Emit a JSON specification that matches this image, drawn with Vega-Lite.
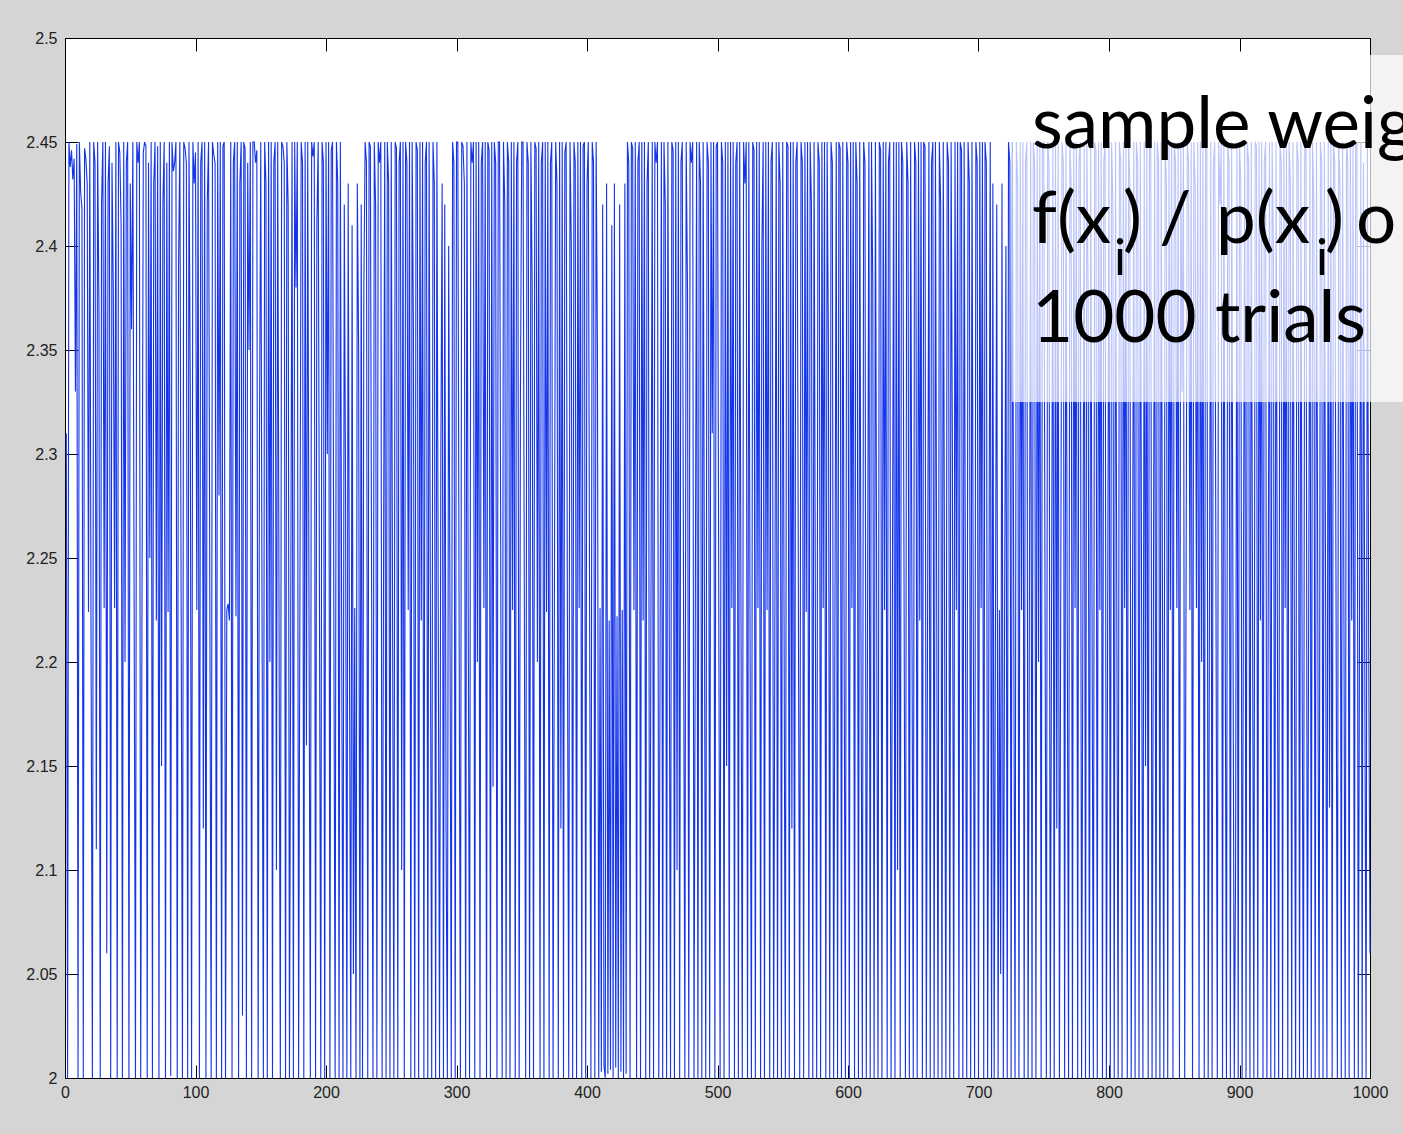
{
"$schema": "https://vega.github.io/schema/vega-lite/v6.json",
"width": 1305, "height": 1040,
"autosize": {"type": "none"},
"padding": {"left": 65, "top": 38, "right": 33, "bottom": 56},
"background": "#d5d5d5",
"config": {"view": {"fill": "#ffffff", "stroke": "#000000", "strokeWidth": 1}},
"datasets": {
"weights": [
{"i":1,"w":2.31},{"i":2,"w":2.0},{"i":3,"w":2.45},{"i":4,"w":2.438},{"i":5,"w":2.446},{"i":6,"w":2.432},{"i":7,"w":2.442},{"i":8,"w":2.33},{"i":9,"w":2.449},{"i":10,"w":2.0},
{"i":11,"w":2.45},{"i":12,"w":2.426},{"i":13,"w":2.418},{"i":14,"w":2.0},{"i":15,"w":2.447},{"i":16,"w":2.442},{"i":17,"w":2.43},{"i":18,"w":2.224},{"i":19,"w":2.45},{"i":20,"w":2.2},
{"i":21,"w":2.0},{"i":22,"w":2.45},{"i":23,"w":2.44},{"i":24,"w":2.11},{"i":25,"w":2.45},{"i":26,"w":2.37},{"i":27,"w":2.0},{"i":28,"w":2.42},{"i":29,"w":2.45},{"i":30,"w":2.226},
{"i":31,"w":2.45},{"i":32,"w":2.06},{"i":33,"w":2.43},{"i":34,"w":2.448},{"i":35,"w":2.0},{"i":36,"w":2.44},{"i":37,"w":2.38},{"i":38,"w":2.226},{"i":39,"w":2.45},{"i":40,"w":2.0},
{"i":41,"w":2.45},{"i":42,"w":2.445},{"i":43,"w":2.41},{"i":44,"w":2.0},{"i":45,"w":2.45},{"i":46,"w":2.2},{"i":47,"w":2.44},{"i":48,"w":2.45},{"i":49,"w":2.0},{"i":50,"w":2.43},
{"i":51,"w":2.36},{"i":52,"w":2.45},{"i":53,"w":2.221},{"i":54,"w":2.0},{"i":55,"w":2.45},{"i":56,"w":2.44},{"i":57,"w":2.45},{"i":58,"w":2.0},{"i":59,"w":2.226},{"i":60,"w":2.445},
{"i":61,"w":2.45},{"i":62,"w":2.448},{"i":63,"w":2.0},{"i":64,"w":2.44},{"i":65,"w":2.25},{"i":66,"w":2.45},{"i":67,"w":2.0},{"i":68,"w":2.43},{"i":69,"w":2.45},{"i":70,"w":2.22},
{"i":71,"w":2.448},{"i":72,"w":2.0},{"i":73,"w":2.45},{"i":74,"w":2.15},{"i":75,"w":2.42},{"i":76,"w":2.45},{"i":77,"w":2.0},{"i":78,"w":2.44},{"i":79,"w":2.224},{"i":80,"w":2.45},
{"i":81,"w":2.001},{"i":82,"w":2.45},{"i":83,"w":2.436},{"i":84,"w":2.44},{"i":85,"w":2.45},{"i":86,"w":2.0},{"i":87,"w":2.39},{"i":88,"w":2.45},{"i":89,"w":2.226},{"i":90,"w":2.0},
{"i":91,"w":2.45},{"i":92,"w":2.447},{"i":93,"w":2.44},{"i":94,"w":2.0},{"i":95,"w":2.45},{"i":96,"w":2.33},{"i":97,"w":2.0},{"i":98,"w":2.45},{"i":99,"w":2.43},{"i":100,"w":2.445},
{"i":101,"w":2.225},{"i":102,"w":2.45},{"i":103,"w":2.0},{"i":104,"w":2.44},{"i":105,"w":2.45},{"i":106,"w":2.12},{"i":107,"w":2.45},{"i":108,"w":2.0},{"i":109,"w":2.42},{"i":110,"w":2.45},
{"i":111,"w":2.226},{"i":112,"w":2.0},{"i":113,"w":2.45},{"i":114,"w":2.444},{"i":115,"w":2.44},{"i":116,"w":2.0},{"i":117,"w":2.45},{"i":118,"w":2.28},{"i":119,"w":2.45},{"i":120,"w":2.0},
{"i":121,"w":2.448},{"i":122,"w":2.45},{"i":123,"w":2.0},{"i":124,"w":2.225},{"i":125,"w":2.228},{"i":126,"w":2.22},{"i":127,"w":2.45},{"i":128,"w":2.0},{"i":129,"w":2.44},{"i":130,"w":2.45},
{"i":131,"w":2.222},{"i":132,"w":2.45},{"i":133,"w":2.0},{"i":134,"w":2.43},{"i":135,"w":2.45},{"i":136,"w":2.03},{"i":137,"w":2.45},{"i":138,"w":2.447},{"i":139,"w":2.0},{"i":140,"w":2.44},
{"i":141,"w":2.35},{"i":142,"w":2.45},{"i":143,"w":2.0},{"i":144,"w":2.45},{"i":145,"w":2.45},{"i":146,"w":2.44},{"i":147,"w":2.446},{"i":148,"w":2.0},{"i":149,"w":2.3},{"i":150,"w":2.45},
{"i":151,"w":2.224},{"i":152,"w":2.0},{"i":153,"w":2.45},{"i":154,"w":2.43},{"i":155,"w":2.0},{"i":156,"w":2.45},{"i":157,"w":2.2},{"i":158,"w":2.45},{"i":159,"w":2.0},{"i":160,"w":2.44},
{"i":161,"w":2.45},{"i":162,"w":2.1},{"i":163,"w":2.45},{"i":164,"w":2.226},{"i":165,"w":2.0},{"i":166,"w":2.45},{"i":167,"w":2.448},{"i":168,"w":2.44},{"i":169,"w":2.0},{"i":170,"w":2.45},
{"i":171,"w":2.42},{"i":172,"w":2.0},{"i":173,"w":2.224},{"i":174,"w":2.45},{"i":175,"w":2.0},{"i":176,"w":2.45},{"i":177,"w":2.38},{"i":178,"w":2.45},{"i":179,"w":2.0},{"i":180,"w":2.228},
{"i":181,"w":2.45},{"i":182,"w":2.44},{"i":183,"w":2.0},{"i":184,"w":2.45},{"i":185,"w":2.16},{"i":186,"w":2.45},{"i":187,"w":2.22},{"i":188,"w":2.0},{"i":189,"w":2.45},{"i":190,"w":2.443},
{"i":191,"w":2.45},{"i":192,"w":2.0},{"i":193,"w":2.41},{"i":194,"w":2.45},{"i":195,"w":2.226},{"i":196,"w":2.0},{"i":197,"w":2.45},{"i":198,"w":2.44},{"i":199,"w":2.0},{"i":200,"w":2.45},
{"i":201,"w":2.3},{"i":202,"w":2.45},{"i":203,"w":2.0},{"i":204,"w":2.446},{"i":205,"w":2.45},{"i":206,"w":2.225},{"i":207,"w":2.0},{"i":208,"w":2.45},{"i":209,"w":2.43},{"i":210,"w":2.0},
{"i":211,"w":2.45},{"i":212,"w":2.22},{"i":213,"w":2.0},{"i":214,"w":2.42},{"i":215,"w":2.28},{"i":216,"w":2.0},{"i":217,"w":2.43},{"i":218,"w":2.2},{"i":219,"w":2.0},{"i":220,"w":2.41},
{"i":221,"w":2.05},{"i":222,"w":2.226},{"i":223,"w":2.0},{"i":224,"w":2.43},{"i":225,"w":2.35},{"i":226,"w":2.0},{"i":227,"w":2.42},{"i":228,"w":2.0},{"i":229,"w":2.38},{"i":230,"w":2.45},
{"i":231,"w":2.44},{"i":232,"w":2.0},{"i":233,"w":2.45},{"i":234,"w":2.448},{"i":235,"w":2.226},{"i":236,"w":2.0},{"i":237,"w":2.45},{"i":238,"w":2.42},{"i":239,"w":2.0},{"i":240,"w":2.45},
{"i":241,"w":2.44},{"i":242,"w":2.45},{"i":243,"w":2.0},{"i":244,"w":2.22},{"i":245,"w":2.45},{"i":246,"w":2.0},{"i":247,"w":2.45},{"i":248,"w":2.43},{"i":249,"w":2.0},{"i":250,"w":2.45},
{"i":251,"w":2.226},{"i":252,"w":2.0},{"i":253,"w":2.45},{"i":254,"w":2.447},{"i":255,"w":2.0},{"i":256,"w":2.44},{"i":257,"w":2.45},{"i":258,"w":2.1},{"i":259,"w":2.45},{"i":260,"w":2.0},
{"i":261,"w":2.45},{"i":262,"w":2.44},{"i":263,"w":2.225},{"i":264,"w":2.45},{"i":265,"w":2.0},{"i":266,"w":2.45},{"i":267,"w":2.36},{"i":268,"w":2.0},{"i":269,"w":2.45},{"i":270,"w":2.446},
{"i":271,"w":2.0},{"i":272,"w":2.45},{"i":273,"w":2.22},{"i":274,"w":2.45},{"i":275,"w":2.0},{"i":276,"w":2.44},{"i":277,"w":2.45},{"i":278,"w":2.0},{"i":279,"w":2.45},{"i":280,"w":2.224},
{"i":281,"w":2.0},{"i":282,"w":2.45},{"i":283,"w":2.43},{"i":284,"w":2.0},{"i":285,"w":2.45},{"i":286,"w":2.226},{"i":287,"w":2.0},{"i":288,"w":2.3},{"i":289,"w":2.43},{"i":290,"w":2.0},
{"i":291,"w":2.42},{"i":292,"w":2.12},{"i":293,"w":2.0},{"i":294,"w":2.4},{"i":295,"w":2.224},{"i":296,"w":2.0},{"i":297,"w":2.45},{"i":298,"w":2.44},{"i":299,"w":2.0},{"i":300,"w":2.45},
{"i":301,"w":2.45},{"i":302,"w":2.22},{"i":303,"w":2.0},{"i":304,"w":2.45},{"i":305,"w":2.448},{"i":306,"w":2.43},{"i":307,"w":2.0},{"i":308,"w":2.45},{"i":309,"w":2.225},{"i":310,"w":2.0},
{"i":311,"w":2.45},{"i":312,"w":2.44},{"i":313,"w":2.45},{"i":314,"w":2.0},{"i":315,"w":2.45},{"i":316,"w":2.2},{"i":317,"w":2.45},{"i":318,"w":2.0},{"i":319,"w":2.44},{"i":320,"w":2.45},
{"i":321,"w":2.226},{"i":322,"w":2.45},{"i":323,"w":2.0},{"i":324,"w":2.45},{"i":325,"w":2.446},{"i":326,"w":2.0},{"i":327,"w":2.45},{"i":328,"w":2.14},{"i":329,"w":2.45},{"i":330,"w":2.44},
{"i":331,"w":2.0},{"i":332,"w":2.45},{"i":333,"w":2.45},{"i":334,"w":2.225},{"i":335,"w":2.0},{"i":336,"w":2.45},{"i":337,"w":2.42},{"i":338,"w":2.0},{"i":339,"w":2.45},{"i":340,"w":2.44},
{"i":341,"w":2.0},{"i":342,"w":2.45},{"i":343,"w":2.225},{"i":344,"w":2.45},{"i":345,"w":2.0},{"i":346,"w":2.44},{"i":347,"w":2.45},{"i":348,"w":2.0},{"i":349,"w":2.33},{"i":350,"w":2.45},
{"i":351,"w":2.45},{"i":352,"w":2.226},{"i":353,"w":2.0},{"i":354,"w":2.45},{"i":355,"w":2.44},{"i":356,"w":2.0},{"i":357,"w":2.45},{"i":358,"w":2.38},{"i":359,"w":2.0},{"i":360,"w":2.45},
{"i":361,"w":2.447},{"i":362,"w":2.2},{"i":363,"w":2.45},{"i":364,"w":2.0},{"i":365,"w":2.44},{"i":366,"w":2.45},{"i":367,"w":2.0},{"i":368,"w":2.45},{"i":369,"w":2.224},{"i":370,"w":2.45},
{"i":371,"w":2.0},{"i":372,"w":2.44},{"i":373,"w":2.45},{"i":374,"w":2.0},{"i":375,"w":2.226},{"i":376,"w":2.45},{"i":377,"w":2.43},{"i":378,"w":2.0},{"i":379,"w":2.45},{"i":380,"w":2.12},
{"i":381,"w":2.45},{"i":382,"w":2.0},{"i":383,"w":2.445},{"i":384,"w":2.45},{"i":385,"w":2.22},{"i":386,"w":2.0},{"i":387,"w":2.45},{"i":388,"w":2.4},{"i":389,"w":2.0},{"i":390,"w":2.45},
{"i":391,"w":2.44},{"i":392,"w":2.0},{"i":393,"w":2.45},{"i":394,"w":2.226},{"i":395,"w":2.45},{"i":396,"w":2.0},{"i":397,"w":2.448},{"i":398,"w":2.45},{"i":399,"w":2.0},{"i":400,"w":2.43},
{"i":401,"w":2.45},{"i":402,"w":2.225},{"i":403,"w":2.0},{"i":404,"w":2.45},{"i":405,"w":2.44},{"i":406,"w":2.0},{"i":407,"w":2.45},{"i":408,"w":2.35},{"i":409,"w":2.0},{"i":410,"w":2.226},
{"i":411,"w":2.003},{"i":412,"w":2.42},{"i":413,"w":2.006},{"i":414,"w":2.0},{"i":415,"w":2.43},{"i":416,"w":2.002},{"i":417,"w":2.22},{"i":418,"w":2.004},{"i":419,"w":2.41},{"i":420,"w":2.0},
{"i":421,"w":2.43},{"i":422,"w":2.005},{"i":423,"w":2.222},{"i":424,"w":2.0},{"i":425,"w":2.42},{"i":426,"w":2.003},{"i":427,"w":2.225},{"i":428,"w":2.0},{"i":429,"w":2.43},{"i":430,"w":2.002},
{"i":431,"w":2.45},{"i":432,"w":2.44},{"i":433,"w":2.0},{"i":434,"w":2.45},{"i":435,"w":2.447},{"i":436,"w":2.225},{"i":437,"w":2.45},{"i":438,"w":2.0},{"i":439,"w":2.44},{"i":440,"w":2.45},
{"i":441,"w":2.0},{"i":442,"w":2.45},{"i":443,"w":2.22},{"i":444,"w":2.45},{"i":445,"w":2.0},{"i":446,"w":2.43},{"i":447,"w":2.45},{"i":448,"w":2.0},{"i":449,"w":2.226},{"i":450,"w":2.45},
{"i":451,"w":2.0},{"i":452,"w":2.45},{"i":453,"w":2.44},{"i":454,"w":2.45},{"i":455,"w":2.0},{"i":456,"w":2.2},{"i":457,"w":2.45},{"i":458,"w":2.0},{"i":459,"w":2.45},{"i":460,"w":2.42},
{"i":461,"w":2.0},{"i":462,"w":2.45},{"i":463,"w":2.226},{"i":464,"w":2.0},{"i":465,"w":2.45},{"i":466,"w":2.446},{"i":467,"w":2.0},{"i":468,"w":2.45},{"i":469,"w":2.1},{"i":470,"w":2.45},
{"i":471,"w":2.0},{"i":472,"w":2.44},{"i":473,"w":2.45},{"i":474,"w":2.224},{"i":475,"w":2.0},{"i":476,"w":2.45},{"i":477,"w":2.38},{"i":478,"w":2.0},{"i":479,"w":2.45},{"i":480,"w":2.44},
{"i":481,"w":2.45},{"i":482,"w":2.0},{"i":483,"w":2.225},{"i":484,"w":2.45},{"i":485,"w":2.0},{"i":486,"w":2.45},{"i":487,"w":2.43},{"i":488,"w":2.0},{"i":489,"w":2.45},{"i":490,"w":2.226},
{"i":491,"w":2.0},{"i":492,"w":2.45},{"i":493,"w":2.44},{"i":494,"w":2.0},{"i":495,"w":2.45},{"i":496,"w":2.31},{"i":497,"w":2.45},{"i":498,"w":2.0},{"i":499,"w":2.448},{"i":500,"w":2.45},
{"i":501,"w":2.222},{"i":502,"w":2.0},{"i":503,"w":2.45},{"i":504,"w":2.44},{"i":505,"w":2.0},{"i":506,"w":2.45},{"i":507,"w":2.15},{"i":508,"w":2.45},{"i":509,"w":2.0},{"i":510,"w":2.45},
{"i":511,"w":2.226},{"i":512,"w":2.45},{"i":513,"w":2.0},{"i":514,"w":2.44},{"i":515,"w":2.45},{"i":516,"w":2.0},{"i":517,"w":2.45},{"i":518,"w":2.224},{"i":519,"w":2.0},{"i":520,"w":2.45},
{"i":521,"w":2.43},{"i":522,"w":2.45},{"i":523,"w":2.0},{"i":524,"w":2.45},{"i":525,"w":2.2},{"i":526,"w":2.0},{"i":527,"w":2.45},{"i":528,"w":2.446},{"i":529,"w":2.0},{"i":530,"w":2.45},
{"i":531,"w":2.226},{"i":532,"w":2.45},{"i":533,"w":2.0},{"i":534,"w":2.4},{"i":535,"w":2.45},{"i":536,"w":2.0},{"i":537,"w":2.45},{"i":538,"w":2.225},{"i":539,"w":2.45},{"i":540,"w":2.0},
{"i":541,"w":2.44},{"i":542,"w":2.45},{"i":543,"w":2.0},{"i":544,"w":2.226},{"i":545,"w":2.45},{"i":546,"w":2.0},{"i":547,"w":2.45},{"i":548,"w":2.43},{"i":549,"w":2.0},{"i":550,"w":2.45},
{"i":551,"w":2.22},{"i":552,"w":2.0},{"i":553,"w":2.45},{"i":554,"w":2.448},{"i":555,"w":2.0},{"i":556,"w":2.45},{"i":557,"w":2.12},{"i":558,"w":2.45},{"i":559,"w":2.0},{"i":560,"w":2.44},
{"i":561,"w":2.45},{"i":562,"w":2.226},{"i":563,"w":2.0},{"i":564,"w":2.45},{"i":565,"w":2.44},{"i":566,"w":2.0},{"i":567,"w":2.45},{"i":568,"w":2.224},{"i":569,"w":2.45},{"i":570,"w":2.0},
{"i":571,"w":2.45},{"i":572,"w":2.42},{"i":573,"w":2.0},{"i":574,"w":2.45},{"i":575,"w":2.225},{"i":576,"w":2.0},{"i":577,"w":2.45},{"i":578,"w":2.44},{"i":579,"w":2.0},{"i":580,"w":2.45},
{"i":581,"w":2.226},{"i":582,"w":2.45},{"i":583,"w":2.0},{"i":584,"w":2.45},{"i":585,"w":2.35},{"i":586,"w":2.0},{"i":587,"w":2.45},{"i":588,"w":2.44},{"i":589,"w":2.0},{"i":590,"w":2.225},
{"i":591,"w":2.45},{"i":592,"w":2.0},{"i":593,"w":2.45},{"i":594,"w":2.447},{"i":595,"w":2.0},{"i":596,"w":2.45},{"i":597,"w":2.22},{"i":598,"w":2.0},{"i":599,"w":2.45},{"i":600,"w":2.44},
{"i":601,"w":2.0},{"i":602,"w":2.45},{"i":603,"w":2.226},{"i":604,"w":2.45},{"i":605,"w":2.0},{"i":606,"w":2.45},{"i":607,"w":2.43},{"i":608,"w":2.0},{"i":609,"w":2.45},{"i":610,"w":2.2},
{"i":611,"w":2.0},{"i":612,"w":2.45},{"i":613,"w":2.44},{"i":614,"w":2.0},{"i":615,"w":2.226},{"i":616,"w":2.45},{"i":617,"w":2.0},{"i":618,"w":2.45},{"i":619,"w":2.38},{"i":620,"w":2.0},
{"i":621,"w":2.45},{"i":622,"w":2.224},{"i":623,"w":2.0},{"i":624,"w":2.45},{"i":625,"w":2.446},{"i":626,"w":2.0},{"i":627,"w":2.45},{"i":628,"w":2.225},{"i":629,"w":2.45},{"i":630,"w":2.0},
{"i":631,"w":2.44},{"i":632,"w":2.45},{"i":633,"w":2.0},{"i":634,"w":2.226},{"i":635,"w":2.45},{"i":636,"w":2.0},{"i":637,"w":2.45},{"i":638,"w":2.1},{"i":639,"w":2.45},{"i":640,"w":2.0},
{"i":641,"w":2.45},{"i":642,"w":2.44},{"i":643,"w":2.225},{"i":644,"w":2.0},{"i":645,"w":2.45},{"i":646,"w":2.43},{"i":647,"w":2.0},{"i":648,"w":2.45},{"i":649,"w":2.226},{"i":650,"w":2.0},
{"i":651,"w":2.45},{"i":652,"w":2.44},{"i":653,"w":2.0},{"i":654,"w":2.45},{"i":655,"w":2.22},{"i":656,"w":2.45},{"i":657,"w":2.0},{"i":658,"w":2.45},{"i":659,"w":2.448},{"i":660,"w":2.0},
{"i":661,"w":2.226},{"i":662,"w":2.45},{"i":663,"w":2.0},{"i":664,"w":2.44},{"i":665,"w":2.45},{"i":666,"w":2.0},{"i":667,"w":2.45},{"i":668,"w":2.224},{"i":669,"w":2.0},{"i":670,"w":2.45},
{"i":671,"w":2.42},{"i":672,"w":2.0},{"i":673,"w":2.45},{"i":674,"w":2.226},{"i":675,"w":2.0},{"i":676,"w":2.45},{"i":677,"w":2.44},{"i":678,"w":2.0},{"i":679,"w":2.45},{"i":680,"w":2.3},
{"i":681,"w":2.0},{"i":682,"w":2.45},{"i":683,"w":2.225},{"i":684,"w":2.45},{"i":685,"w":2.0},{"i":686,"w":2.45},{"i":687,"w":2.446},{"i":688,"w":2.0},{"i":689,"w":2.45},{"i":690,"w":2.226},
{"i":691,"w":2.0},{"i":692,"w":2.45},{"i":693,"w":2.43},{"i":694,"w":2.0},{"i":695,"w":2.45},{"i":696,"w":2.22},{"i":697,"w":2.0},{"i":698,"w":2.45},{"i":699,"w":2.44},{"i":700,"w":2.0},
{"i":701,"w":2.45},{"i":702,"w":2.226},{"i":703,"w":2.45},{"i":704,"w":2.0},{"i":705,"w":2.45},{"i":706,"w":2.44},{"i":707,"w":2.0},{"i":708,"w":2.224},{"i":709,"w":2.45},{"i":710,"w":2.0},
{"i":711,"w":2.43},{"i":712,"w":2.0},{"i":713,"w":2.22},{"i":714,"w":2.42},{"i":715,"w":2.0},{"i":716,"w":2.225},{"i":717,"w":2.05},{"i":718,"w":2.43},{"i":719,"w":2.0},{"i":720,"w":2.224},
{"i":721,"w":2.4},{"i":722,"w":2.0},{"i":723,"w":2.45},{"i":724,"w":2.44},{"i":725,"w":2.0},{"i":726,"w":2.45},{"i":727,"w":2.226},{"i":728,"w":2.0},{"i":729,"w":2.45},{"i":730,"w":2.43},
{"i":731,"w":2.0},{"i":732,"w":2.45},{"i":733,"w":2.225},{"i":734,"w":2.45},{"i":735,"w":2.0},{"i":736,"w":2.44},{"i":737,"w":2.45},{"i":738,"w":2.0},{"i":739,"w":2.226},{"i":740,"w":2.45},
{"i":741,"w":2.0},{"i":742,"w":2.45},{"i":743,"w":2.44},{"i":744,"w":2.0},{"i":745,"w":2.45},{"i":746,"w":2.2},{"i":747,"w":2.45},{"i":748,"w":2.0},{"i":749,"w":2.448},{"i":750,"w":2.45},
{"i":751,"w":2.226},{"i":752,"w":2.0},{"i":753,"w":2.45},{"i":754,"w":2.44},{"i":755,"w":2.0},{"i":756,"w":2.225},{"i":757,"w":2.45},{"i":758,"w":2.0},{"i":759,"w":2.45},{"i":760,"w":2.12},
{"i":761,"w":2.45},{"i":762,"w":2.0},{"i":763,"w":2.226},{"i":764,"w":2.45},{"i":765,"w":2.44},{"i":766,"w":2.0},{"i":767,"w":2.45},{"i":768,"w":2.222},{"i":769,"w":2.0},{"i":770,"w":2.45},
{"i":771,"w":2.43},{"i":772,"w":2.0},{"i":773,"w":2.45},{"i":774,"w":2.226},{"i":775,"w":2.45},{"i":776,"w":2.0},{"i":777,"w":2.44},{"i":778,"w":2.45},{"i":779,"w":2.0},{"i":780,"w":2.224},
{"i":781,"w":2.45},{"i":782,"w":2.0},{"i":783,"w":2.45},{"i":784,"w":2.38},{"i":785,"w":2.0},{"i":786,"w":2.45},{"i":787,"w":2.226},{"i":788,"w":2.0},{"i":789,"w":2.45},{"i":790,"w":2.446},
{"i":791,"w":2.0},{"i":792,"w":2.45},{"i":793,"w":2.225},{"i":794,"w":2.45},{"i":795,"w":2.0},{"i":796,"w":2.44},{"i":797,"w":2.45},{"i":798,"w":2.0},{"i":799,"w":2.226},{"i":800,"w":2.45},
{"i":801,"w":2.0},{"i":802,"w":2.45},{"i":803,"w":2.42},{"i":804,"w":2.0},{"i":805,"w":2.45},{"i":806,"w":2.22},{"i":807,"w":2.0},{"i":808,"w":2.45},{"i":809,"w":2.44},{"i":810,"w":2.0},
{"i":811,"w":2.45},{"i":812,"w":2.226},{"i":813,"w":2.45},{"i":814,"w":2.0},{"i":815,"w":2.45},{"i":816,"w":2.43},{"i":817,"w":2.0},{"i":818,"w":2.225},{"i":819,"w":2.45},{"i":820,"w":2.0},
{"i":821,"w":2.45},{"i":822,"w":2.44},{"i":823,"w":2.0},{"i":824,"w":2.45},{"i":825,"w":2.226},{"i":826,"w":2.0},{"i":827,"w":2.45},{"i":828,"w":2.15},{"i":829,"w":2.45},{"i":830,"w":2.0},
{"i":831,"w":2.448},{"i":832,"w":2.45},{"i":833,"w":2.0},{"i":834,"w":2.224},{"i":835,"w":2.45},{"i":836,"w":2.0},{"i":837,"w":2.45},{"i":838,"w":2.44},{"i":839,"w":2.0},{"i":840,"w":2.45},
{"i":841,"w":2.226},{"i":842,"w":2.0},{"i":843,"w":2.45},{"i":844,"w":2.43},{"i":845,"w":2.0},{"i":846,"w":2.45},{"i":847,"w":2.225},{"i":848,"w":2.45},{"i":849,"w":2.0},{"i":850,"w":2.45},
{"i":851,"w":2.44},{"i":852,"w":2.226},{"i":853,"w":2.45},{"i":854,"w":2.0},{"i":855,"w":2.45},{"i":856,"w":2.33},{"i":857,"w":2.45},{"i":858,"w":2.0},{"i":859,"w":2.226},{"i":860,"w":2.45},
{"i":861,"w":2.44},{"i":862,"w":2.225},{"i":863,"w":2.45},{"i":864,"w":2.0},{"i":865,"w":2.45},{"i":866,"w":2.43},{"i":867,"w":2.226},{"i":868,"w":2.45},{"i":869,"w":2.0},{"i":870,"w":2.45},
{"i":871,"w":2.2},{"i":872,"w":2.45},{"i":873,"w":2.0},{"i":874,"w":2.45},{"i":875,"w":2.446},{"i":876,"w":2.0},{"i":877,"w":2.226},{"i":878,"w":2.45},{"i":879,"w":2.0},{"i":880,"w":2.44},
{"i":881,"w":2.45},{"i":882,"w":2.225},{"i":883,"w":2.0},{"i":884,"w":2.45},{"i":885,"w":2.42},{"i":886,"w":2.45},{"i":887,"w":2.0},{"i":888,"w":2.45},{"i":889,"w":2.226},{"i":890,"w":2.0},
{"i":891,"w":2.45},{"i":892,"w":2.44},{"i":893,"w":2.0},{"i":894,"w":2.45},{"i":895,"w":2.224},{"i":896,"w":2.0},{"i":897,"w":2.1},{"i":898,"w":2.45},{"i":899,"w":2.0},{"i":900,"w":2.45},
{"i":901,"w":2.43},{"i":902,"w":2.0},{"i":903,"w":2.226},{"i":904,"w":2.45},{"i":905,"w":2.0},{"i":906,"w":2.45},{"i":907,"w":2.44},{"i":908,"w":2.0},{"i":909,"w":2.45},{"i":910,"w":2.225},
{"i":911,"w":2.0},{"i":912,"w":2.45},{"i":913,"w":2.448},{"i":914,"w":2.0},{"i":915,"w":2.45},{"i":916,"w":2.22},{"i":917,"w":2.45},{"i":918,"w":2.0},{"i":919,"w":2.44},{"i":920,"w":2.45},
{"i":921,"w":2.0},{"i":922,"w":2.226},{"i":923,"w":2.45},{"i":924,"w":2.0},{"i":925,"w":2.45},{"i":926,"w":2.4},{"i":927,"w":2.0},{"i":928,"w":2.45},{"i":929,"w":2.225},{"i":930,"w":2.0},
{"i":931,"w":2.45},{"i":932,"w":2.44},{"i":933,"w":2.0},{"i":934,"w":2.45},{"i":935,"w":2.226},{"i":936,"w":2.45},{"i":937,"w":2.0},{"i":938,"w":2.45},{"i":939,"w":2.43},{"i":940,"w":2.0},
{"i":941,"w":2.45},{"i":942,"w":2.224},{"i":943,"w":2.0},{"i":944,"w":2.45},{"i":945,"w":2.44},{"i":946,"w":2.0},{"i":947,"w":2.45},{"i":948,"w":2.2},{"i":949,"w":2.0},{"i":950,"w":2.45},
{"i":951,"w":2.446},{"i":952,"w":2.0},{"i":953,"w":2.226},{"i":954,"w":2.45},{"i":955,"w":2.0},{"i":956,"w":2.45},{"i":957,"w":2.42},{"i":958,"w":2.0},{"i":959,"w":2.45},{"i":960,"w":2.225},
{"i":961,"w":2.0},{"i":962,"w":2.45},{"i":963,"w":2.44},{"i":964,"w":2.0},{"i":965,"w":2.45},{"i":966,"w":2.226},{"i":967,"w":2.0},{"i":968,"w":2.45},{"i":969,"w":2.13},{"i":970,"w":2.45},
{"i":971,"w":2.0},{"i":972,"w":2.45},{"i":973,"w":2.44},{"i":974,"w":2.225},{"i":975,"w":2.0},{"i":976,"w":2.45},{"i":977,"w":2.43},{"i":978,"w":2.0},{"i":979,"w":2.45},{"i":980,"w":2.226},
{"i":981,"w":2.0},{"i":982,"w":2.45},{"i":983,"w":2.44},{"i":984,"w":2.0},{"i":985,"w":2.45},{"i":986,"w":2.22},{"i":987,"w":2.45},{"i":988,"w":2.0},{"i":989,"w":2.448},{"i":990,"w":2.45},
{"i":991,"w":2.0},{"i":992,"w":2.226},{"i":993,"w":2.45},{"i":994,"w":2.0},{"i":995,"w":2.44},{"i":996,"w":2.2},{"i":997,"w":2.0},{"i":998,"w":2.45},{"i":999,"w":2.21},{"i":1000,"w":2.06}
],
"box": [{"i": 725.7, "i2": 1040, "w": 2.4918, "w2": 2.325}],
"note": [
{"i": 741.0, "w": 2.4471, "label": "sample weig"},
{"i": 741.0, "w": 2.4014, "label": "f(x"},
{"i": 810.7, "w": 2.4014, "label": ")"},
{"i": 838.5, "w": 2.4014, "label": "/"},
{"i": 882.0, "w": 2.4014, "label": "p(x"},
{"i": 965.5, "w": 2.4014, "label": ")"},
{"i": 989.3, "w": 2.4014, "label": "o"},
{"i": 741.0, "w": 2.3538, "label": "1000 trials"}
],
"subs": [
{"i": 803.8, "w": 2.3861, "label": "i"},
{"i": 958.6, "w": 2.3861, "label": "i"}
]
},
"layer": [
{
"data": {"name": "weights"},
"mark": {"type": "line", "color": "#1434ea", "strokeWidth": 1.1},
"encoding": {
"x": {"field": "i", "type": "quantitative", "scale": {"domain": [0, 1000], "nice": false, "zero": false},
"axis": {"orient": "bottom", "values": [0,100,200,300,400,500,600,700,800,900,1000], "format": "d", "tickSize": -13, "tickColor": "#000000", "domain": false, "grid": false, "labelFont": "Liberation Sans", "labelFontSize": 16, "labelColor": "#222222", "labelPadding": 19, "labelFlush": false, "title": null}},
"y": {"field": "w", "type": "quantitative", "scale": {"domain": [2, 2.5], "nice": false, "zero": false},
"axis": {"orient": "left", "values": [2,2.05,2.1,2.15,2.2,2.25,2.3,2.35,2.4,2.45,2.5], "format": "~g", "tickSize": -13, "tickColor": "#000000", "domain": false, "grid": false, "labelFont": "Liberation Sans", "labelFontSize": 16, "labelColor": "#222222", "labelPadding": 21, "labelFlush": false, "title": null}}
}
},
{
"data": {"name": "box"},
"mark": {"type": "rect", "fill": "#ffffff", "fillOpacity": 0.7},
"encoding": {
"x": {"field": "i", "type": "quantitative", "scale": {"domain": [0, 1000], "nice": false, "zero": false},
"axis": {"orient": "top", "values": [0,100,200,300,400,500,600,700,800,900,1000], "labels": false, "tickSize": -13, "tickColor": "#000000", "domain": false, "grid": false, "title": null}},
"x2": {"field": "i2"},
"y": {"field": "w", "type": "quantitative", "scale": {"domain": [2, 2.5], "nice": false, "zero": false},
"axis": {"orient": "right", "values": [2,2.05,2.1,2.15,2.2,2.25,2.3,2.35,2.4,2.45,2.5], "labels": false, "tickSize": -13, "tickColor": "#000000", "domain": false, "grid": false, "title": null}},
"y2": {"field": "w2"}
}
},
{
"data": {"name": "note"},
"mark": {"type": "text", "align": "left", "baseline": "alphabetic", "font": "Lato", "fontSize": 71, "color": "#000000"},
"encoding": {
"x": {"field": "i", "type": "quantitative", "scale": {"domain": [0, 1000], "nice": false, "zero": false}, "axis": null},
"y": {"field": "w", "type": "quantitative", "scale": {"domain": [2, 2.5], "nice": false, "zero": false}, "axis": null},
"text": {"field": "label"}
}
},
{
"data": {"name": "subs"},
"mark": {"type": "text", "align": "left", "baseline": "alphabetic", "font": "Lato", "fontSize": 50, "color": "#000000"},
"encoding": {
"x": {"field": "i", "type": "quantitative", "scale": {"domain": [0, 1000], "nice": false, "zero": false}, "axis": null},
"y": {"field": "w", "type": "quantitative", "scale": {"domain": [2, 2.5], "nice": false, "zero": false}, "axis": null},
"text": {"field": "label"}
}
}
],
"resolve": {"axis": {"x": "independent", "y": "independent"}}
}
